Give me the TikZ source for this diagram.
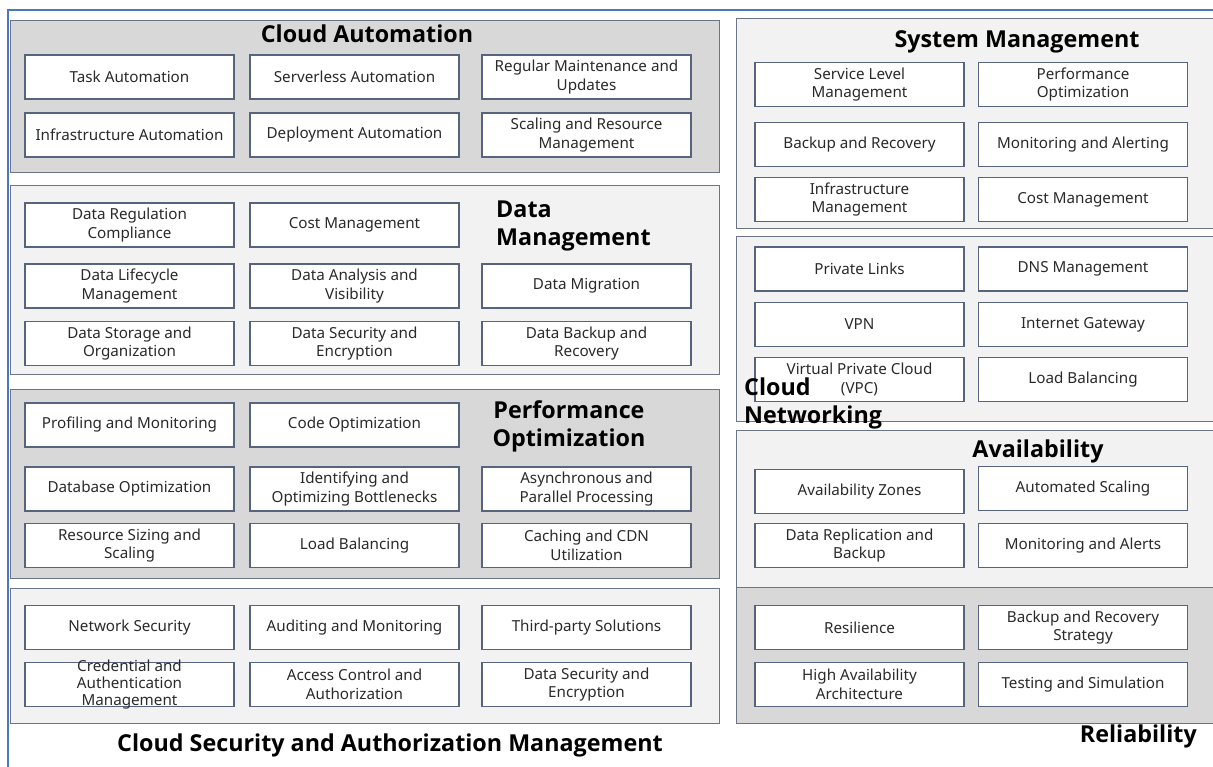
\documentclass[tikz,border=0pt]{standalone}
\usepackage{fontspec}
\setmainfont{Noto Sans}
\newfontfamily\titlefont{Open Sans}
\definecolor{frameblue}{HTML}{4A76C6}
\definecolor{panelgray}{HTML}{D8D8D8}
\definecolor{panellight}{HTML}{F2F2F2}
\definecolor{panelline}{HTML}{6A7688}
\definecolor{boxline}{HTML}{56647E}
\definecolor{itemtxt}{HTML}{2A2A2A}
\tikzset{
  panel/.style={draw=panelline, line width=0.9pt},
  darkpanel/.style={panel, fill=panelgray},
  lightpanel/.style={panel, fill=panellight},
  item/.style={draw=boxline, line width=1.1pt, fill=white, minimum width=209pt,
    minimum height=44pt, inner sep=0pt, align=center, text=itemtxt,
    font=\fontsize{15.2}{18.5}\selectfont},
  itemtext/.style={inner sep=0pt, align=center, text=itemtxt,
    font=\fontsize{15.2}{17}\selectfont},
  title/.style={inner sep=0pt, font=\titlefont\fontsize{23.3}{28}\selectfont\bfseries, text=black}
}
\begin{document}
\begin{tikzpicture}[x=1pt, y=-1pt]
\useasboundingbox (0,0) rectangle (1213,767);
\fill[white] (0,0) rectangle (1213,767);
% outer frame
\draw[frameblue, line width=2pt] (8,800) -- (8,10) -- (1230,10);

% ---------- left column panels ----------
\draw[darkpanel]  (10,20)  rectangle (719,172);
\draw[lightpanel] (10,185) rectangle (719,374);
\draw[darkpanel]  (10,389) rectangle (719,578);
\draw[lightpanel] (10,588) rectangle (719,723);

% ---------- right column panels ----------
\draw[lightpanel] (736,18)  rectangle (1230,228);
\draw[lightpanel] (736,236) rectangle (1230,421);
\draw[lightpanel] (736,430) rectangle (1230,587);
\draw[darkpanel]  (736,587) rectangle (1230,723);

% Cloud Automation
\node[title] (tca) at (367,34) {Cloud Automation};
\node[item] (ca1) at (129.5,77)  {Task Automation};
\node[item] (ca2) at (354.5,77)  {Serverless Automation};
\node[item] (ca3) at (586.5,77)  {Regular Maintenance and\\Updates};
\node[item] (ca4) at (129.5,135) {Infrastructure Automation};
\node[item] (ca5) at (354.5,135) {Deployment Automation};
\node[item] (ca6) at (586.5,135) {Scaling and Resource\\Management};

% Data Management
\node[title, anchor=west, align=left] (tdm) at (496,226) {Data\\Management};
\node[item] (dm1) at (129.5,225)   {Data Regulation\\Compliance};
\node[item] (dm2) at (354.5,225)   {Cost Management};
\node[item] (dm3) at (129.5,286)   {Data Lifecycle\\Management};
\node[item] (dm4) at (354.5,286)   {Data Analysis and\\Visibility};
\node[item] (dm5) at (586.5,286)   {Data Migration};
\node[item] (dm6) at (129.5,343.5) {Data Storage and\\Organization};
\node[item] (dm7) at (354.5,343.5) {Data Security and\\Encryption};
\node[item] (dm8) at (586.5,343.5) {Data Backup and\\Recovery};

% Performance Optimization
\node[title, align=center] (tpo) at (569,426) {Performance\\Optimization};
\node[item] (po1) at (129.5,425)   {Profiling and Monitoring};
\node[item] (po2) at (354.5,425)   {Code Optimization};
\node[item] (po3) at (129.5,489)   {Database Optimization};
\node[item] (po4) at (354.5,489)   {Identifying and\\Optimizing Bottlenecks};
\node[item] (po5) at (586.5,489)   {Asynchronous and\\Parallel Processing};
\node[item] (po6) at (129.5,545.5) {Resource Sizing and\\Scaling};
\node[item] (po7) at (354.5,545.5) {Load Balancing};
\node[item] (po8) at (586.5,545.5) {Caching and CDN\\Utilization};

% Cloud Security and Authorization Management
\node[item] (cs1) at (129.5,627.5) {Network Security};
\node[item] (cs2) at (354.5,627.5) {Auditing and Monitoring};
\node[item] (cs3) at (586.5,627.5) {Third-party Solutions};
\node[item] (cs4) at (129.5,684.5) {};
\node[itemtext] (cs4t) at (cs4) {Credential and\\Authentication\\Management};
\node[item] (cs5) at (354.5,684.5) {Access Control and\\Authorization};
\node[item] (cs6) at (586.5,684.5) {Data Security and\\Encryption};
\node[title] (tcs) at (390,745) {Cloud Security and Authorization Management};

% System Management
\node[title] (tsm) at (1017,42) {System Management};
\node[item] (sm1) at (859.5,84.5)  {Service Level\\Management};
\node[item] (sm2) at (1083,84.5)   {Performance\\Optimization};
\node[item] (sm3) at (859.5,144.5) {Backup and Recovery};
\node[item] (sm4) at (1083,144.5)  {Monitoring and Alerting};
\node[item] (sm5) at (859.5,199.5) {Infrastructure\\Management};
\node[item] (sm6) at (1083,199.5)  {Cost Management};

% Cloud Networking
\node[item] (cn1) at (859.5,269)   {Private Links};
\node[item] (cn2) at (1083,269)    {DNS Management};
\node[item] (cn3) at (859.5,324.5) {VPN};
\node[item] (cn4) at (1083,324.5)  {Internet Gateway};
\node[item] (cn5) at (859.5,379.5) {Virtual Private Cloud\\(VPC)};
\node[item] (cn6) at (1083,379.5)  {Load Balancing};
\node[title, anchor=west, align=left] (tcn) at (744,403) {Cloud\\Networking};

% Availability
\node[title] (tav) at (1038,451) {Availability};
\node[item] (av1) at (859.5,491.5) {Availability Zones};
\node[item] (av2) at (1083,488.5)  {Automated Scaling};
\node[item] (av3) at (859.5,545.5) {Data Replication and\\Backup};
\node[item] (av4) at (1083,545.5)  {Monitoring and Alerts};

% Reliability
\node[item] (re1) at (859.5,627.5) {Resilience};
\node[item] (re2) at (1083,627.5)  {Backup and Recovery\\Strategy};
\node[item] (re3) at (859.5,684.5) {High Availability\\Architecture};
\node[item] (re4) at (1083,684.5)  {Testing and Simulation};
\node[title, anchor=east] (tre) at (1197,736) {Reliability};
\end{tikzpicture}
\end{document}
